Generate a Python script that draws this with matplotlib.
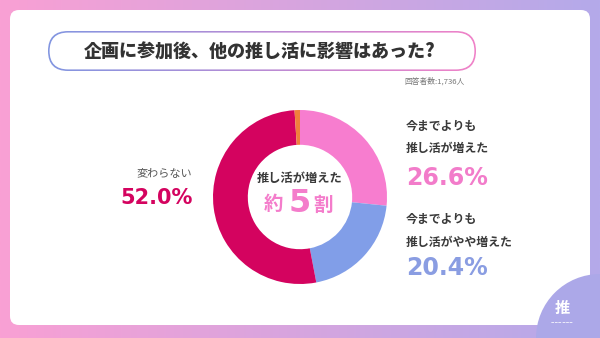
import matplotlib
matplotlib.use("Agg")
import matplotlib.pyplot as plt
import numpy as np
from matplotlib.patches import FancyBboxPatch, Circle

plt.rcParams['font.family'] = ['Noto Sans CJK JP', 'DejaVu Sans']

# ---- data ----
categories = ["今までよりも推し活が増えた", "今までよりも推し活がやや増えた", "変わらない", "その他"]
values = [26.6, 20.4, 52.0, 1.0]
colors = ["#f77dcf", "#819ee8", "#d4035f", "#f07f3c"]
title = "企画に参加後、他の推し活に影響はあった?"
note = "回答者数:1,736人"
center_line1 = "推し活が増えた"

W, H = 600, 338
fig = plt.figure(figsize=(6, 3.38), dpi=100)

# background axes in pixel coords
bg = fig.add_axes([0, 0, 1, 1])
bg.set_xlim(0, W)
bg.set_ylim(H, 0)
bg.axis('off')

# gradient background pink -> purple
left_c = np.array([249, 160, 212]) / 255
right_c = np.array([180, 170, 234]) / 255
t = np.linspace(0, 1, 256)
grad = (left_c[None, :] * (1 - t[:, None]) + right_c[None, :] * t[:, None])[None, :, :]
bg.imshow(grad, extent=[0, W, H, 0], aspect='auto', zorder=0)

# white card
card = FancyBboxPatch((10, 10), 580, 315, boxstyle="round,pad=0,rounding_size=9",
                      fc="white", ec="none", zorder=1)
bg.add_patch(card)

# bottom-right purple circle
bg.add_patch(Circle((600, 338), 64, fc="#aca8e8", ec="none", zorder=2))
bg.text(562, 308, "推", color="white", fontsize=11, fontweight='bold',
        ha='center', va='center', zorder=3)
bg.text(562, 323, "ーーー ーーー", color="white", fontsize=2.5, ha='center', va='center', zorder=3)

# title pill with gradient border
px0, py0, pw, ph = 48, 31, 428, 40
outer = FancyBboxPatch((px0, py0), pw, ph, boxstyle="round,pad=0,rounding_size=20",
                       fc="none", ec="none", zorder=3)
bg.add_patch(outer)
c1 = np.array([130, 150, 225]) / 255
c2 = np.array([240, 130, 200]) / 255
pgrad = (c1[None, :] * (1 - t[:, None]) + c2[None, :] * t[:, None])[None, :, :]
im = bg.imshow(pgrad, extent=[px0, px0 + pw, py0 + ph, py0], aspect='auto', zorder=3)
im.set_clip_path(outer)
bw = 1.6
inner = FancyBboxPatch((px0 + bw, py0 + bw), pw - 2 * bw, ph - 2 * bw,
                       boxstyle="round,pad=0,rounding_size=18.5",
                       fc="white", ec="none", zorder=4)
bg.add_patch(inner)
bg.set_xlim(0, W)
bg.set_ylim(H, 0)

bg.text(px0 + pw / 2 - 2, py0 + ph / 2 + 1, title, fontsize=13, fontweight='heavy',
        color="#333333", ha='center', va='center', zorder=5)
bg.text(465, 81, note, fontsize=5.6, color="#777777", ha='right', va='center', zorder=5)

# labels
dark = "#3a3a3a"
num_font = ['DejaVu Sans']
bg.text(192, 174, categories[2], fontsize=8, color="#555555", ha='right', va='center', zorder=5)
bg.text(193, 198, f"{values[2]:.1f}%", fontsize=15, fontweight='bold', color=colors[2],
        ha='right', va='center', zorder=5, family=num_font)

bg.text(406, 126, "今までよりも", fontsize=8.6, fontweight='bold', color=dark, ha='left', va='center', zorder=5)
bg.text(406, 148, "推し活が増えた", fontsize=8.6, fontweight='bold', color=dark, ha='left', va='center', zorder=5)
bg.text(406, 178, f"{values[0]:.1f}%", fontsize=17, fontweight='bold', color="#f27cca",
        ha='left', va='center', zorder=5, family=num_font)

bg.text(406, 219, "今までよりも", fontsize=8.6, fontweight='bold', color=dark, ha='left', va='center', zorder=5)
bg.text(406, 242, "推し活がやや増えた", fontsize=8.6, fontweight='bold', color=dark, ha='left', va='center', zorder=5)
bg.text(406, 268, f"{values[1]:.1f}%", fontsize=17, fontweight='bold', color="#8a9de2",
        ha='left', va='center', zorder=5, family=num_font)

# donut
cx, cy, R = 300, 197, 87
half = 92
pax = fig.add_axes([(cx - half) / W, (H - cy - half) / H, 2 * half / W, 2 * half / H])
pax.pie(values, colors=colors, startangle=90, counterclock=False, radius=1,
        wedgeprops=dict(width=0.4, edgecolor='none'))
lim = half / R
pax.set_xlim(-lim, lim)
pax.set_ylim(-lim, lim)
pax.set_aspect('equal')
pax.axis('off')

# center text
bg2 = fig.add_axes([0, 0, 1, 1])
bg2.set_xlim(0, W)
bg2.set_ylim(H, 0)
bg2.axis('off')
bg2.patch.set_alpha(0)
bg2.text(300, 178, center_line1, fontsize=8.8, fontweight='bold', color=dark, ha='center', va='center')
pink = "#f47ccb"
bg2.text(273, 205, "約", fontsize=14, fontweight='bold', color=pink, ha='center', va='center')
bg2.text(300, 203, "5", fontsize=23, fontweight='heavy', color=pink, ha='center', va='center',
         family=num_font)
bg2.text(323, 205, "割", fontsize=14, fontweight='bold', color=pink, ha='center', va='center')

fig.savefig("out.png", dpi=100)
